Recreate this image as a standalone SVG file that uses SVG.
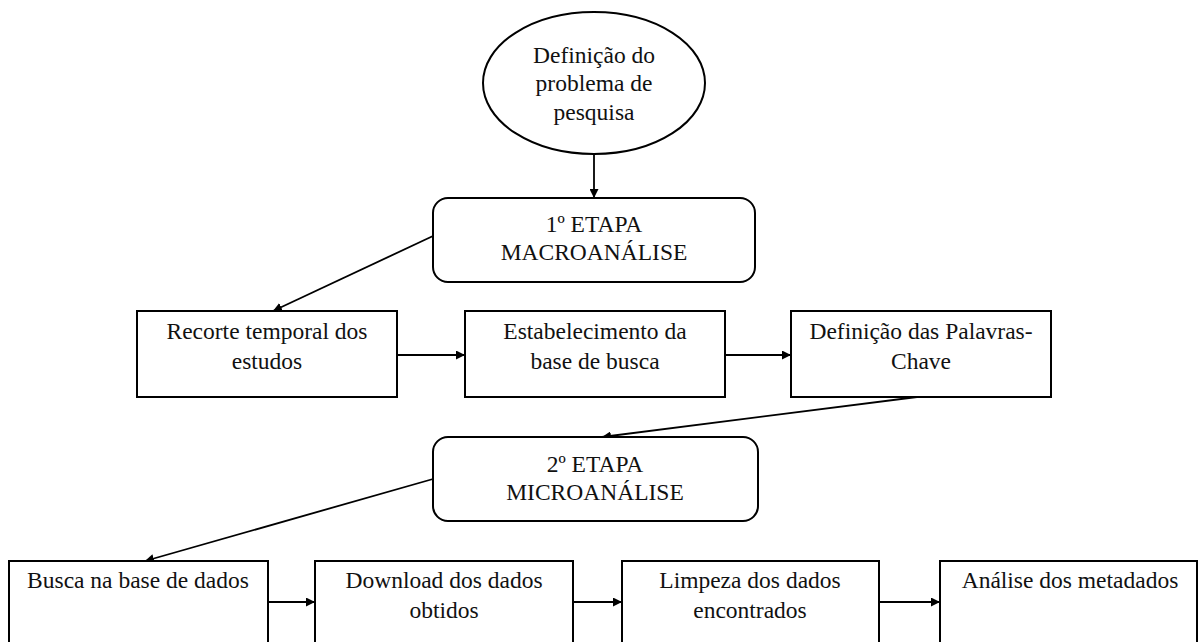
<svg xmlns="http://www.w3.org/2000/svg" width="1199" height="642" viewBox="0 0 1199 642">
<style>
.box{fill:#fff;stroke:#000;stroke-width:2}
.t{font-family:"Liberation Serif","Times New Roman",serif;font-size:23.5px;fill:#111;text-anchor:middle}
.c{stroke:#000;stroke-width:1.8;fill:none;marker-end:url(#ah)}
</style>
<defs>
<marker id="ah" viewBox="0 0 10 10" refX="10" refY="5" markerWidth="5" markerHeight="5" orient="auto" markerUnits="strokeWidth">
<path d="M0,0 L10,5 L0,10 z" fill="#000"/>
</marker>
</defs>
<rect width="1199" height="642" fill="#fff"/>
<g id="connectors">
<line class="c" x1="594" y1="154" x2="594" y2="198"/>
<line class="c" x1="433" y1="236" x2="273" y2="311"/>
<line class="c" x1="397" y1="355" x2="465" y2="355"/>
<line class="c" x1="725" y1="355" x2="791" y2="355"/>
<line class="c" x1="917" y1="397" x2="602" y2="437"/>
<line class="c" x1="433" y1="479" x2="145" y2="561"/>
<line class="c" x1="268" y1="602" x2="315" y2="602"/>
<line class="c" x1="573" y1="602" x2="622" y2="602"/>
<line class="c" x1="879" y1="602" x2="940" y2="602"/>
</g>
<g id="n_problema">
<ellipse class="box" cx="594" cy="83" rx="111" ry="71"/>
<text class="t" x="594" y="63">Definição do</text>
<text class="t" x="594" y="91">problema de</text>
<text class="t" x="594" y="120">pesquisa</text>
</g>
<g id="n_etapa1">
<rect class="box" x="433" y="198" width="322" height="84" rx="15"/>
<text class="t" x="594" y="232">1º ETAPA</text>
<text class="t" x="594" y="260">MACROANÁLISE</text>
</g>
<g id="n_recorte">
<rect class="box" x="137" y="311" width="260" height="86"/>
<text class="t" x="267" y="339">Recorte temporal dos</text>
<text class="t" x="267" y="369">estudos</text>
</g>
<g id="n_base">
<rect class="box" x="465" y="311" width="260" height="86"/>
<text class="t" x="595" y="339">Estabelecimento da</text>
<text class="t" x="595" y="369">base de busca</text>
</g>
<g id="n_palavras">
<rect class="box" x="791" y="311" width="260" height="86"/>
<text class="t" x="921" y="339">Definição das Palavras-</text>
<text class="t" x="921" y="369">Chave</text>
</g>
<g id="n_etapa2">
<rect class="box" x="433" y="437" width="325" height="84" rx="15"/>
<text class="t" x="595" y="472">2º ETAPA</text>
<text class="t" x="595" y="500">MICROANÁLISE</text>
</g>
<g id="n_busca">
<rect class="box" x="9" y="561" width="259" height="100"/>
<text class="t" x="138" y="588">Busca na base de dados</text>
</g>
<g id="n_download">
<rect class="box" x="315" y="561" width="258" height="100"/>
<text class="t" x="444" y="588">Download dos dados</text>
<text class="t" x="444" y="618">obtidos</text>
</g>
<g id="n_limpeza">
<rect class="box" x="622" y="561" width="257" height="100"/>
<text class="t" x="750" y="588">Limpeza dos dados</text>
<text class="t" x="750" y="618">encontrados</text>
</g>
<g id="n_analise">
<rect class="box" x="940" y="561" width="257" height="100"/>
<text class="t" x="1070" y="588">Análise dos metadados</text>
</g>
</svg>
